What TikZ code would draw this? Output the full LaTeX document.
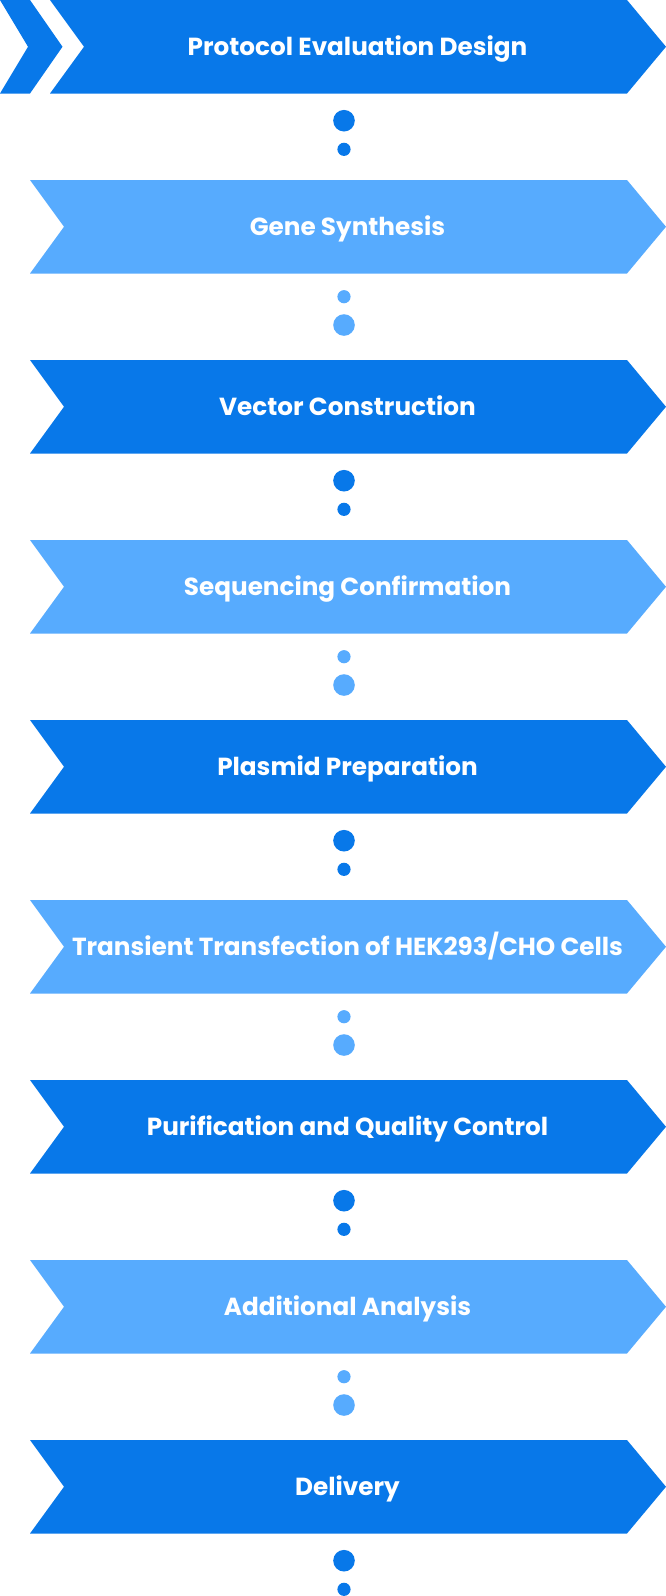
\documentclass[tikz,border=0pt]{standalone}
\usepackage{fontspec}
\setmainfont{Poppins}
\definecolor{dkblue}{HTML}{0878E9}
\definecolor{ltblue}{HTML}{57ABFE}
\tikzset{
  lbl/.style={text=white, font=\fontsize{24.7}{28}\selectfont\bfseries, anchor=base, inner sep=0pt},
}
\newcommand{\mybanner}[4]{% name, top, color, text
  \fill[#3] (30,#2) -- (627,#2) -- (666,#2+46.75) -- (627,#2+93.5) -- (30,#2+93.5) -- (64,#2+46.75) -- cycle;
  \node[lbl] (#1) at (347.5,#2+55.5) {#4};
}
\newcommand{\dotsdown}[3]{% top, color, bigfirst(1)/smallfirst(0)
  \ifnum#3=1
    \fill[#2] (344,#1+120.7) circle (10.8);
    \fill[#2] (344,#1+149.3) circle (6.6);
  \else
    \fill[#2] (344,#1+116.7) circle (6.6);
    \fill[#2] (344,#1+145) circle (10.8);
  \fi
}
\begin{document}
\begin{tikzpicture}[x=1pt,y=-1pt]
\useasboundingbox (0,0) rectangle (666,1596);
% first banner with extra chevron
\fill[dkblue] (0,0) -- (30,0) -- (62.5,46.75) -- (30,93.5) -- (0,93.5) -- (28,46.75) -- cycle;
\fill[dkblue] (50,0) -- (627,0) -- (666,46.75) -- (627,93.5) -- (50,93.5) -- (84,46.75) -- cycle;
\node[lbl] (b1) at (357.5,55.5) {Protocol Evaluation Design};
\dotsdown{0}{dkblue}{1}
\mybanner{b2}{180}{ltblue}{Gene Synthesis}
\dotsdown{180}{ltblue}{0}
\mybanner{b3}{360}{dkblue}{Vector Construction}
\dotsdown{360}{dkblue}{1}
\mybanner{b4}{540}{ltblue}{Sequencing Confirmation}
\dotsdown{540}{ltblue}{0}
\mybanner{b5}{720}{dkblue}{Plasmid Preparation}
\dotsdown{720}{dkblue}{1}
\mybanner{b6}{900}{ltblue}{Transient Transfection of HEK293/CHO Cells}
\dotsdown{900}{ltblue}{0}
\mybanner{b7}{1080}{dkblue}{Purification and Quality Control}
\dotsdown{1080}{dkblue}{1}
\mybanner{b8}{1260}{ltblue}{Additional Analysis}
\dotsdown{1260}{ltblue}{0}
\mybanner{b9}{1440}{dkblue}{Delivery}
\dotsdown{1440}{dkblue}{1}
\end{tikzpicture}
\end{document}
